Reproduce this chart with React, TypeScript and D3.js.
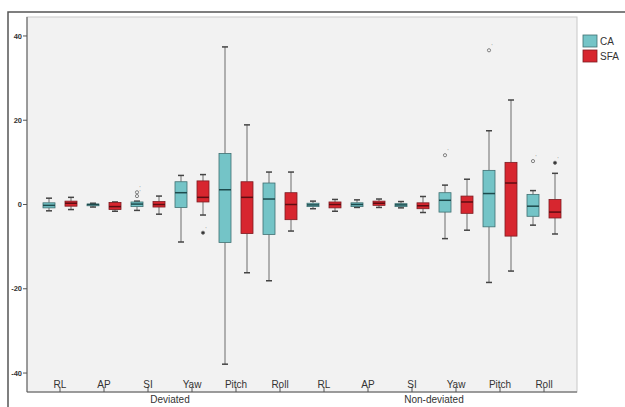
import React from 'react';
import * as d3 from 'd3';

const measures = ['RL', 'AP', 'SI', 'Yaw', 'Pitch', 'Roll'];
const groups = ['Deviated', 'Non-deviated'];
const series = ['CA', 'SFA'];
const yTicks = [-40, -20, 0, 20, 40];

// [min, q1, median, q3, max] per category, deviated then non-deviated
const caStats = [
  [-1.5, -0.8, -0.2, 0.4, 1.5],
  [-0.6, -0.3, 0, 0.1, 0.3],
  [-1.4, -0.5, 0.1, 0.6, 0.8],
  [-8.9, -0.7, 2.8, 5.4, 6.9],
  [-37.9, -9.0, 3.5, 12.1, 37.4],
  [-18.1, -7.1, 1.3, 5.1, 7.7],
  [-1.0, -0.5, -0.1, 0.3, 0.8],
  [-0.7, -0.5, 0, 0.4, 1.1],
  [-0.8, -0.5, -0.1, 0.2, 0.7],
  [-8.1, -1.8, 1.0, 2.8, 4.6],
  [-18.5, -5.3, 2.6, 8.1, 17.5],
  [-4.9, -2.8, -0.4, 2.4, 3.3],
];
const sfaStats = [
  [-1.2, -0.4, 0.3, 0.8, 1.7],
  [-1.6, -1.2, -0.5, 0.5, 0.6],
  [-2.3, -0.6, 0, 0.7, 2.0],
  [-2.5, 0.6, 1.7, 5.6, 7.1],
  [-16.2, -6.9, 1.7, 5.4, 18.9],
  [-6.3, -3.6, 0, 2.8, 7.7],
  [-1.6, -0.8, 0, 0.6, 1.2],
  [-0.7, -0.2, 0.3, 0.8, 1.3],
  [-1.9, -1.0, -0.3, 0.4, 1.9],
  [-6.1, -2.1, 0.6, 2.0, 6.0],
  [-15.8, -7.5, 5.1, 10.0, 24.8],
  [-7.0, -3.2, -1.8, 1.2, 7.4],
];
// outliers: [series, category index, value, extreme?]
const outliers: [string, number, number, boolean][] = [
  ['CA', 2, 2.0, false],
  ['CA', 2, 2.9, false],
  ['SFA', 3, -6.7, true],
  ['CA', 9, 11.7, false],
  ['CA', 10, 36.6, false],
  ['CA', 11, 10.3, false],
  ['SFA', 11, 9.9, true],
];

const fills: Record<string, string> = { CA: '#74c4c7', SFA: '#d7262f' };
const strokes: Record<string, string> = { CA: '#3f6f71', SFA: '#7d1c22' };
const medians: Record<string, string> = { CA: '#1d4a4c', SFA: '#5e0d12' };

const W = 625, H = 407;
const plot = { left: 27, right: 577, top: 17, bottom: 392 };

export default function App() {
  const cats = groups.flatMap((g) => measures.map((m) => `${g}|${m}`));
  const x = d3.scaleBand().domain(cats).range([plot.left, plot.right]).paddingOuter(0.25);
  const xs = d3.scaleBand().domain(series).range([0, x.bandwidth()]);
  const y = d3.scaleLinear().domain([-44.5, 44.5]).range([plot.bottom, plot.top]);
  const boxW = 12, capW = 6;
  const font = '"Liberation Sans", Arial, sans-serif';

  const statsFor: Record<string, number[][]> = { CA: caStats, SFA: sfaStats };

  return (
    <svg width={W} height={H} style={{ position: 'absolute', left: 0, top: 0, background: '#fff' }} fontFamily={font}>
      <path d={`M8,${H}V12H${W}`} fill="none" stroke="#555" strokeWidth={1.5} />
      <rect x={plot.left} y={plot.top} width={plot.right - plot.left} height={plot.bottom - plot.top}
        fill="#f2f2f2" stroke="#c8c8c8" strokeWidth={1} />
      {/* y axis */}
      <line x1={plot.left} x2={plot.left} y1={plot.top} y2={plot.bottom} stroke="#555" />
      {yTicks.map((t) => (
        <g key={t}>
          <line x1={plot.left - 4} x2={plot.left} y1={y(t)} y2={y(t)} stroke="#555" />
          <text x={plot.left - 5} y={y(t)} dy="0.35em" textAnchor="end" fontSize={7.5} fontWeight="bold" fill="#333">{t}</text>
        </g>
      ))}
      {/* x axis */}
      <line x1={plot.left} x2={plot.right} y1={plot.bottom} y2={plot.bottom} stroke="#555" />
      {cats.map((c) => {
        const cx = x(c)! + x.bandwidth() / 2;
        return (
          <g key={c}>
            <line x1={cx} x2={cx} y1={plot.bottom} y2={plot.bottom - 5} stroke="#555" />
            <text x={cx} y={388} textAnchor="middle" fontSize={10} fill="#333">{c.split('|')[1]}</text>
          </g>
        );
      })}
      {groups.map((g) => {
        const first = x(`${g}|${measures[0]}`)! + x.bandwidth() / 2;
        const last = x(`${g}|${measures[measures.length - 1]}`)! + x.bandwidth() / 2;
        return (
          <text key={g} x={(first + last) / 2} y={403} textAnchor="middle" fontSize={10} fill="#333">{g}</text>
        );
      })}
      {/* boxes */}
      {series.map((s) =>
        statsFor[s].map((st, i) => {
          const cx = x(cats[i])! + xs(s)! + xs.bandwidth() / 2;
          const [mn, q1, md, q3, mx] = st;
          return (
            <g key={`${s}-${i}`}>
              <line x1={cx} x2={cx} y1={y(mx)} y2={y(q3)} stroke="#999" strokeWidth={1.5} />
              <line x1={cx} x2={cx} y1={y(q1)} y2={y(mn)} stroke="#999" strokeWidth={1.5} />
              <line x1={cx - capW / 2} x2={cx + capW / 2} y1={y(mx)} y2={y(mx)} stroke="#444" strokeWidth={1.5} />
              <line x1={cx - capW / 2} x2={cx + capW / 2} y1={y(mn)} y2={y(mn)} stroke="#444" strokeWidth={1.5} />
              <rect x={cx - boxW / 2} y={y(q3)} width={boxW} height={Math.max(1.5, y(q1) - y(q3))}
                fill={fills[s]} stroke={strokes[s]} strokeWidth={0.8} />
              <line x1={cx - boxW / 2} x2={cx + boxW / 2} y1={y(md)} y2={y(md)} stroke={medians[s]} strokeWidth={1.5} />
            </g>
          );
        })
      )}
      {outliers.map(([s, i, v, ext], k) => {
        const cx = x(cats[i])! + xs(s)! + xs.bandwidth() / 2;
        return (
          <g key={k}>
            <circle cx={cx} cy={y(v)} r={1.6} fill={ext ? '#333' : 'none'} stroke="#666" strokeWidth={0.8} />
            <text x={cx + 2.5} y={y(v) - 2} fontSize={5} fill="#777">'</text>
          </g>
        );
      })}
      {/* legend */}
      {series.map((s, i) => (
        <g key={s} transform={`translate(583,${35 + i * 15})`}>
          <rect width={14} height={12} fill={fills[s]} stroke={strokes[s]} strokeWidth={0.8} />
          <text x={17} y={6} dy="0.35em" fontSize={10} fill="#333">{s}</text>
        </g>
      ))}
    </svg>
  );
}
